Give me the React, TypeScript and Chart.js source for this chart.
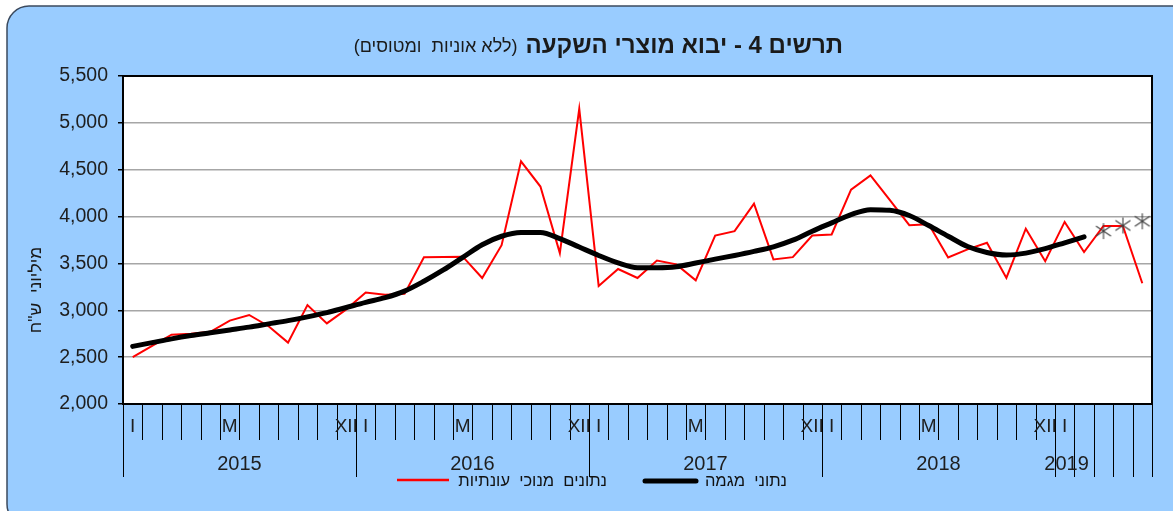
import React, { useEffect, useRef } from 'react';
import { Chart, registerables } from 'chart.js';

Chart.register(...registerables);

const FONT = "'Liberation Sans', Arial, 'DejaVu Sans', sans-serif";

// Monthly categories, Jan 2015 – May 2019
const categories = [
  '2015-01', '2015-02', '2015-03', '2015-04', '2015-05', '2015-06', '2015-07', '2015-08', '2015-09', '2015-10', '2015-11', '2015-12',
  '2016-01', '2016-02', '2016-03', '2016-04', '2016-05', '2016-06', '2016-07', '2016-08', '2016-09', '2016-10', '2016-11', '2016-12',
  '2017-01', '2017-02', '2017-03', '2017-04', '2017-05', '2017-06', '2017-07', '2017-08', '2017-09', '2017-10', '2017-11', '2017-12',
  '2018-01', '2018-02', '2018-03', '2018-04', '2018-05', '2018-06', '2018-07', '2018-08', '2018-09', '2018-10', '2018-11', '2018-12',
  '2019-01', '2019-02', '2019-03', '2019-04', '2019-05',
];

// Month tick labels (first row of the category axis)
const monthTickLabels = [
  'I', '', '', '', '', 'M', '', '', '', '', '', 'XII',
  'I', '', '', '', '', 'M', '', '', '', '', '', 'XII',
  'I', '', '', '', '', 'M', '', '', '', '', '', 'XII',
  'I', '', '', '', '', 'M', '', '', '', '', '', 'XII',
  'I', '', '', '', '',
];

// Year labels (second row) and their centres in category units
const yearLabels = ['2015', '2016', '2017', '2018', '2019'];
const yearLabelCenters = [5.5, 17.5, 29.5, 41.5, 48.1];

// Seasonally adjusted data (NIS million)
const seasonallyAdjusted = [
  2500, 2620, 2740, 2750, 2770, 2890, 2950, 2830, 2655, 3055, 2860, 3010,
  3190, 3165, 3175, 3565, 3568, 3572, 3345, 3695, 4590, 4320, 3610, 5150,
  3260, 3440, 3345, 3530, 3490, 3320, 3798, 3844, 4138, 3543, 3567, 3798,
  3809, 4287, 4440, 4175, 3908, 3918, 3563, 3650, 3720, 3345, 3870, 3524,
  3943, 3621, 3900, 3900, 3288,
];

// Trend data (Jan 2015 – Feb 2019)
const trend = [
  2615, 2655, 2695, 2730, 2760, 2790, 2820, 2855, 2890, 2930, 2975, 3030,
  3085, 3135, 3205, 3310, 3430, 3565, 3700, 3790, 3830, 3830, 3765, 3675,
  3585, 3505, 3455, 3455, 3465, 3504, 3546, 3585, 3628, 3677, 3748, 3844,
  3933, 4021, 4074, 4067, 4011, 3904, 3790, 3680, 3617, 3590, 3610, 3658,
  3720, 3784,
];

// Trend estimates (Mar – May 2019), drawn as star markers
const trendEstimates = [3845, 3905, 3950];

const Y_MIN = 2000;
const Y_MAX = 5500;
const Y_STEP = 500;

const TITLE_BOLD = 'תרשים 4 - יבוא מוצרי השקעה';
const TITLE_NORMAL = '(ללא אוניות  ומטוסים)';
const Y_TITLE = 'מיליוני  ש"ח';
const LEGEND_SA = 'נתונים  מנוכי  עונתיות';
const LEGEND_TREND = 'נתוני  מגמה';

function makeStar(): HTMLCanvasElement {
  const c = document.createElement('canvas');
  c.width = 18;
  c.height = 18;
  const g = c.getContext('2d')!;
  g.strokeStyle = '#404040';
  g.lineWidth = 1.1;
  g.beginPath();
  g.moveTo(1.5, 4); g.lineTo(16.5, 14);
  g.moveTo(1.5, 14); g.lineTo(16.5, 4);
  g.moveTo(9, 1); g.lineTo(9, 17);
  g.stroke();
  return c;
}

function roundRectPath(ctx: CanvasRenderingContext2D, x: number, y: number, w: number, h: number, r: number) {
  ctx.beginPath();
  ctx.moveTo(x + r, y);
  ctx.lineTo(x + w - r, y);
  ctx.arcTo(x + w, y, x + w, y + r, r);
  ctx.lineTo(x + w, y + h - r);
  ctx.arcTo(x + w, y + h, x + w - r, y + h, r);
  ctx.lineTo(x + r, y + h);
  ctx.arcTo(x, y + h, x, y + h - r, r);
  ctx.lineTo(x, y + r);
  ctx.arcTo(x, y, x + r, y, r);
  ctx.closePath();
}

const decorPlugin = {
  id: 'decor',
  beforeDraw(chart: any) {
    const { ctx, width, height, chartArea: a } = chart;
    ctx.save();
    ctx.fillStyle = '#ffffff';
    ctx.fillRect(0, 0, width, height);
    roundRectPath(ctx, 7, 6, 1190, 520, 22);
    ctx.fillStyle = '#99ccff';
    ctx.fill();
    ctx.strokeStyle = '#3b4a5e';
    ctx.lineWidth = 1.5;
    ctx.stroke();
    ctx.fillStyle = '#ffffff';
    ctx.fillRect(a.left, a.top, a.right - a.left, a.bottom - a.top);
    ctx.restore();
  },
  afterDraw(chart: any) {
    const { ctx, chartArea: a } = chart;
    const x = chart.scales.x;
    ctx.save();

    // plot frame
    ctx.strokeStyle = '#000';
    ctx.lineWidth = 2;
    ctx.strokeRect(a.left, a.top, a.right - a.left, a.bottom - a.top);

    // category ticks
    ctx.lineWidth = 1;
    for (let i = 0; i <= categories.length; i++) {
      const px = Math.round(x.getPixelForValue(i - 0.5)) + 0.5;
      const isLong = i % 12 === 0 || i >= 48;
      ctx.beginPath();
      ctx.moveTo(px, a.bottom);
      ctx.lineTo(px, a.bottom + (isLong ? 73 : 36));
      ctx.stroke();
    }

    // month labels
    ctx.fillStyle = '#1e1e1e';
    ctx.textAlign = 'center';
    ctx.textBaseline = 'middle';
    ctx.font = `19px ${FONT}`;
    monthTickLabels.forEach((t, i) => {
      if (t) ctx.fillText(t, x.getPixelForValue(i), a.bottom + 23);
    });

    // year labels
    ctx.font = `20px ${FONT}`;
    yearLabels.forEach((y, k) => {
      ctx.fillText(y, x.getPixelForValue(yearLabelCenters[k]), a.bottom + 60);
    });

    // title
    ctx.direction = 'rtl';
    ctx.textAlign = 'right';
    ctx.fillStyle = '#1a1a1a';
    ctx.font = `bold 24px ${FONT}`;
    const titleRight = 843;
    ctx.fillText(TITLE_BOLD, titleRight, 46);
    const wBold = ctx.measureText(TITLE_BOLD).width;
    ctx.font = `18px ${FONT}`;
    ctx.fillText(TITLE_NORMAL, titleRight - wBold - 8, 47);

    // y-axis title
    ctx.save();
    ctx.translate(36, 290);
    ctx.rotate(-Math.PI / 2);
    ctx.textAlign = 'center';
    ctx.font = `17.5px ${FONT}`;
    ctx.fillText(Y_TITLE, 0, 0);
    ctx.restore();

    // legend
    ctx.direction = 'rtl';
    ctx.textAlign = 'right';
    ctx.font = `16.5px ${FONT}`;
    ctx.fillStyle = '#111';
    ctx.strokeStyle = '#ff0000';
    ctx.lineWidth = 2.5;
    ctx.beginPath();
    ctx.moveTo(397, 480);
    ctx.lineTo(449, 480);
    ctx.stroke();
    ctx.fillText(LEGEND_SA, 607, 481);

    ctx.strokeStyle = '#000';
    ctx.lineWidth = 5;
    ctx.lineCap = 'round';
    ctx.beginPath();
    ctx.moveTo(645, 481);
    ctx.lineTo(696, 481);
    ctx.stroke();
    ctx.fillText(LEGEND_TREND, 787, 481);

    ctx.restore();
  },
};

export default function App() {
  const ref = useRef<HTMLCanvasElement>(null);

  useEffect(() => {
    if (!ref.current) return;
    const star = makeStar();
    const n = categories.length;
    const trendData = categories.map((_, i) => (i < trend.length ? trend[i] : null));
    const estStart = n - trendEstimates.length;
    const estData = categories.map((_, i) => (i >= estStart ? trendEstimates[i - estStart] : null));

    const chart = new Chart(ref.current, {
      type: 'line',
      data: {
        labels: categories,
        datasets: [
          {
            label: LEGEND_SA,
            data: seasonallyAdjusted,
            borderColor: '#ff0000',
            borderWidth: 2,
            pointRadius: 0,
            tension: 0,
            order: 3,
          },
          {
            label: LEGEND_TREND,
            data: trendData,
            borderColor: '#000000',
            borderWidth: 5,
            pointRadius: 0,
            cubicInterpolationMode: 'monotone',
            borderCapStyle: 'round',
            borderJoinStyle: 'round',
            order: 2,
          },
          {
            label: 'estimate',
            data: estData,
            showLine: false,
            pointStyle: star as any,
            pointRadius: 9,
            order: 1,
          },
        ],
      },
      options: {
        responsive: false,
        animation: false,
        events: [],
        layout: { padding: { left: 0, right: 21, top: 76, bottom: 0 } },
        plugins: {
          legend: { display: false },
          tooltip: { enabled: false },
          title: { display: false },
        },
        scales: {
          x: {
            type: 'category',
            offset: true,
            grid: { display: false, drawTicks: false },
            ticks: { display: false },
            border: { display: false },
            afterFit: (s: any) => { s.height = 107; },
          },
          y: {
            min: Y_MIN,
            max: Y_MAX,
            ticks: {
              stepSize: Y_STEP,
              padding: 10,
              color: '#1e1e1e',
              font: { size: 19.5, family: FONT },
              callback: (v: any) => Number(v).toLocaleString('en-US'),
            },
            grid: {
              color: '#a6a6a6',
              lineWidth: 1.5,
              tickColor: '#000',
              tickLength: 5,
              tickWidth: 1.5,
            },
            border: { display: true, color: '#000', width: 2 },
            afterFit: (s: any) => { s.width = 123; },
          },
        },
      },
      plugins: [decorPlugin],
    } as any);

    return () => chart.destroy();
  }, []);

  return (
    <div style={{ position: 'absolute', left: 0, top: 0, width: 1173, height: 511 }}>
      <canvas ref={ref} width={1173} height={511} style={{ display: 'block', width: 1173, height: 511 }} />
    </div>
  );
}
